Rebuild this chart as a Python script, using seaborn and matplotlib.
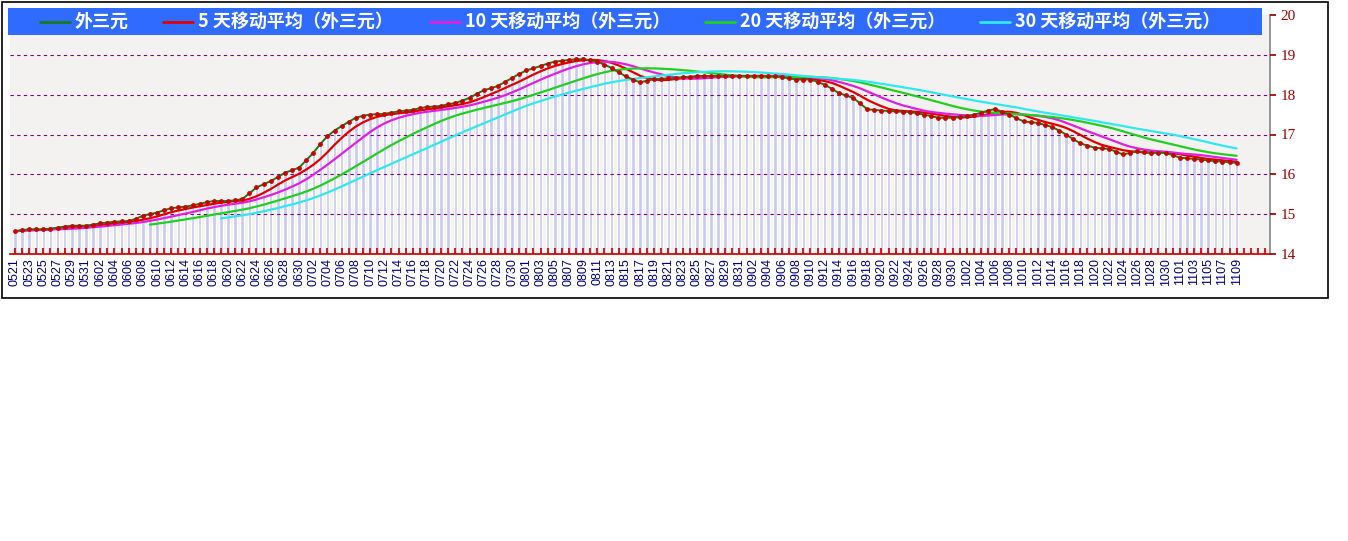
import numpy as np
import pandas as pd
import matplotlib
matplotlib.use("Agg")
import matplotlib.pyplot as plt
import seaborn as sns
from datetime import date, timedelta
from matplotlib.lines import Line2D

sns.set_theme(style="white")
plt.rcParams['font.family'] = ['Noto Sans CJK SC', 'DejaVu Sans']

price_may = [14.57,14.60,14.62,14.62,14.62,14.64,14.66,14.69,14.71,14.71,14.71]
price_jun = [14.74,14.77,14.79,14.81,14.82,14.83,14.88,14.96,15.0,15.04,15.10,15.15,15.17,15.19,15.22,
             15.26,15.30,15.33,15.33,15.33,15.35,15.38,15.52,15.67,15.75,15.83,15.93,16.04,16.10,16.17]
price_jul = [16.35,16.54,16.76,16.96,17.10,17.21,17.32,17.42,17.47,17.50,17.51,17.52,17.55,17.58,17.60,
             17.62,17.66,17.69,17.70,17.72,17.76,17.79,17.85,17.92,18.02,18.11,18.16,18.22,18.32,18.42,18.52]
price_aug = [18.61,18.66,18.72,18.78,18.83,18.85,18.87,18.89,18.89,18.86,18.83,18.75,18.67,18.56,18.46,
             18.38,18.31,18.35,18.39,18.40,18.41,18.42,18.44,18.45,18.47,18.47,18.47,18.47,18.47,18.47,18.47]
price_sep = [18.47,18.47,18.47,18.46,18.46,18.44,18.41,18.38,18.38,18.38,18.32,18.25,18.15,18.04,17.98,
             17.92,17.78,17.63,17.62,17.60,17.59,17.58,17.57,17.57,17.53,17.50,17.46,17.42,17.42,17.42]
price_oct = [17.44,17.46,17.50,17.54,17.60,17.64,17.57,17.50,17.41,17.33,17.31,17.29,17.24,17.19,17.10,
             17.0,16.88,16.78,16.72,16.67,16.65,16.64,16.57,16.50,16.54,16.58,16.56,16.54,16.54,16.54,16.48]
price_nov = [16.42,16.40,16.39,16.37,16.35,16.33,16.32,16.30,16.29]
price = np.array(price_may + price_jun + price_jul + price_aug + price_sep + price_oct + price_nov)

series_names = ["外三元", "5 天移动平均（外三元）", "10 天移动平均（外三元）",
                "20 天移动平均（外三元）", "30 天移动平均（外三元）"]
windows = [5, 10, 20, 30]
colors = ["#1a7a1a", "#e00000", "#e020e0", "#20d020", "#30e8f0"]

n = len(price)
n_total = n + 4
start = date(2000, 5, 21)
labels = [(start + timedelta(days=i)).strftime("%m%d") for i in range(n_total)]
x = np.arange(n)
s = pd.Series(price)

fig = plt.figure(figsize=(13.48, 5.41), dpi=100)
fig.patch.set_facecolor("white")
W, H = 1348, 541
ax = fig.add_axes([10/W, 1-254/H, 1260/W, 239/H])
ax.set_facecolor("#f4f2f0")

sns.barplot(x=x, y=price, native_scale=True, color="#c8c8f2", width=0.5,
            saturation=1, ax=ax, zorder=1)

for k, w in enumerate(windows):
    ma = s.rolling(w, min_periods=1).mean().values.copy()
    if w >= 20:
        ma[:w-1] = np.nan
    sns.lineplot(x=x, y=ma, color=colors[k+1], lw=1.6, ax=ax, zorder=3)
sns.lineplot(x=x, y=price, color=colors[0], lw=1.4, ax=ax, zorder=6)
ax.scatter(x, price, s=6, color="#d00000", zorder=7)

ax.set_xlim(-0.7, n_total - 0.3)
ax.set_ylim(14, 20)
for v in range(15, 20):
    ax.axhline(v, color="#800080", lw=0.8, ls=(0, (3, 3)), zorder=2)
ax.set_axisbelow(False)
ax.yaxis.tick_right()
ax.set_yticks(range(14, 21))
ax.tick_params(axis="y", colors="#a00000", labelsize=11, length=4, right=True)
for t in ax.get_yticklabels():
    t.set_color("#a00000")
    t.set_family(["Liberation Serif", "DejaVu Serif"])
ax.set_xticks(range(n_total))
ax.set_xticklabels([l if i % 2 == 0 and i < n else "" for i, l in enumerate(labels)],
                   rotation=90, fontsize=9, color="#000080", family=["Liberation Sans", "DejaVu Sans"])
ax.tick_params(axis="x", colors="#d00000", direction="in", length=4, bottom=True, pad=3)
for t in ax.get_xticklabels():
    t.set_color("#000080")
for sp in ["top", "left"]:
    ax.spines[sp].set_visible(False)
ax.spines["bottom"].set_color("#d00000")
ax.spines["right"].set_color("#888888")
ax.set_xlabel("")
ax.set_ylabel("")

frame = plt.Rectangle((2/W, 1-298/H), 1326/W, 296/H, transform=fig.transFigure,
                      fill=False, ec="black", lw=1.2)
fig.add_artist(frame)

bar = plt.Rectangle((8/W, 1-35/H), 1254/W, 27/H, transform=fig.transFigure,
                    fc="#2f6bff", ec="none", zorder=10)
fig.add_artist(bar)
text_x = [75, 198, 465, 740, 1015]
ly = 1 - 21.5/H
for c, name, tx in zip(colors, series_names, text_x):
    fig.add_artist(Line2D([(tx-35)/W, (tx-5)/W], [ly, ly], transform=fig.transFigure,
                          color=c, lw=2, zorder=11))
    fig.text(tx/W, ly, name, color="white", fontsize=13, fontweight="bold",
             va="center", ha="left", zorder=12)

fig.savefig("out.png", dpi=100)
